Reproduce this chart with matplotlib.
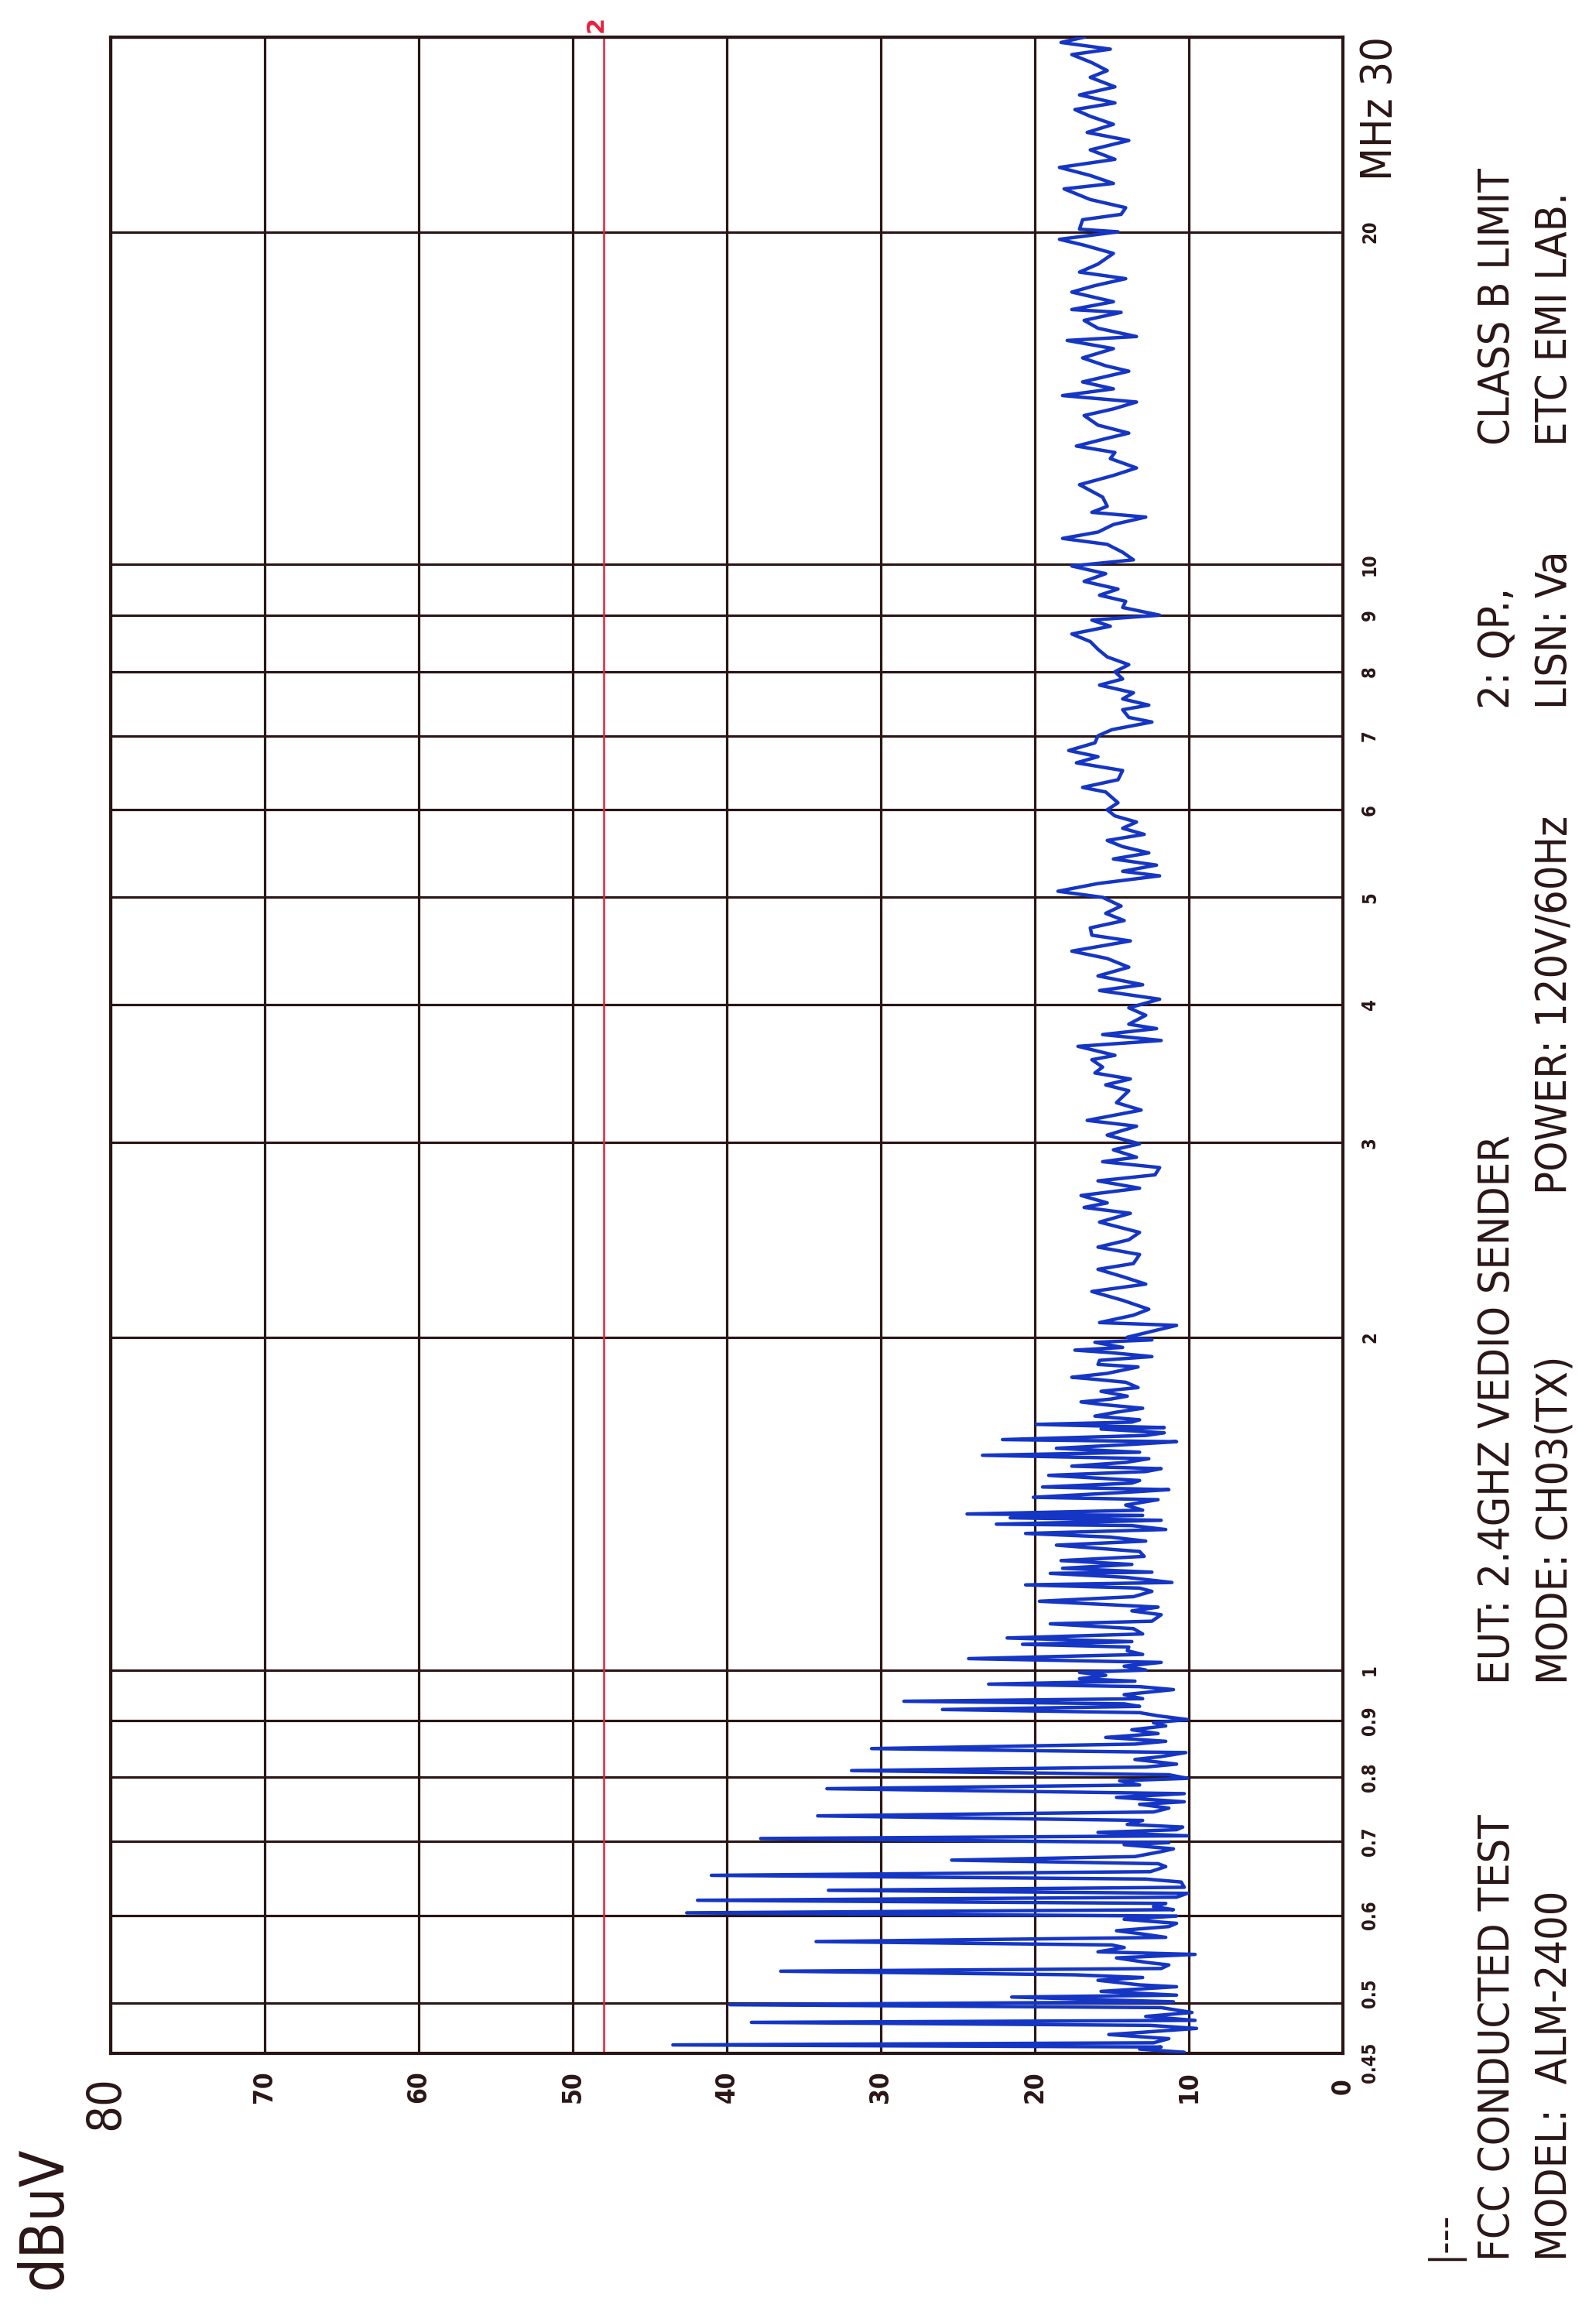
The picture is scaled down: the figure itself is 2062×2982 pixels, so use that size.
import matplotlib
matplotlib.use('Agg')
import matplotlib.pyplot as plt
import matplotlib.transforms as mtransforms
from matplotlib import font_manager
from matplotlib.ticker import NullLocator

# ---------------- data (frequency in MHz, level in dBuV) ----------------
freq_a = [0.450, 0.451, 0.454, 0.456, 0.458, 0.460, 0.464, 0.468, 0.470, 0.474,
          0.477, 0.480, 0.482, 0.486, 0.490, 0.495, 0.498, 0.501, 0.506, 0.508,
          0.512, 0.517, 0.519, 0.524, 0.527, 0.530, 0.534, 0.537, 0.541, 0.544,
          0.549, 0.553, 0.556, 0.561, 0.564, 0.568, 0.573, 0.577, 0.581, 0.586,
          0.590, 0.595, 0.599, 0.603, 0.607, 0.611, 0.615, 0.619, 0.623, 0.628,
          0.632, 0.636, 0.643, 0.647, 0.652, 0.657, 0.664, 0.668, 0.673, 0.678,
          0.685, 0.689, 0.695, 0.698]
level_a = [10.5, 10.3, 13.2, 11.8, 43.5, 12.3, 11.3, 15.2, 13.2, 9.5,
           12.5, 38.4, 9.6, 12.8, 9.8, 11.8, 39.8, 11.0, 21.5, 10.8,
           15.7, 10.8, 13.2, 15.9, 13.0, 17.4, 36.5, 11.8, 11.3, 12.8,
           14.7, 9.6, 15.9, 14.2, 15.0, 34.2, 11.5, 13.0, 14.7, 11.3,
           10.8, 14.2, 10.8, 42.6, 11.0, 12.3, 11.5, 41.9, 10.8, 10.1,
           33.4, 10.3, 10.5, 12.8, 41.0, 12.5, 11.5, 12.0, 25.4, 13.5,
           11.8, 11.0, 14.2, 11.3]

freq_b = [0.704, 0.708, 0.713, 0.717, 0.721, 0.725, 0.731, 0.738, 0.744, 0.750,
          0.756, 0.760, 0.767, 0.773, 0.781, 0.787, 0.794, 0.798, 0.804, 0.811,
          0.817, 0.822, 0.830, 0.835, 0.842, 0.849, 0.857, 0.862, 0.869, 0.876,
          0.883, 0.890, 0.896, 0.902, 0.909, 0.915, 0.921, 0.927, 0.932, 0.937,
          0.942, 0.950, 0.960, 0.966, 0.971, 0.977, 0.982, 0.989, 0.995, 1.000,
          1.008, 1.016, 1.024, 1.033, 1.041]
level_b = [37.8, 10.1, 15.9, 10.8, 10.4, 14.0, 13.0, 34.1, 12.3, 11.3,
           13.2, 10.3, 14.7, 10.3, 33.5, 13.2, 14.5, 10.1, 11.3, 31.9,
           12.8, 10.8, 13.5, 11.8, 10.2, 30.6, 13.5, 11.5, 15.4, 12.0,
           13.7, 11.5, 12.3, 10.1, 12.0, 13.2, 26.0, 13.2, 14.2, 28.5,
           13.0, 14.2, 11.0, 13.2, 23.0, 13.5, 17.1, 15.4, 17.1, 12.8,
           14.2, 11.8, 24.3, 13.0, 14.0]

freq_c = [1.049, 1.055, 1.061, 1.069, 1.078, 1.090, 1.101, 1.107, 1.122, 1.131,
          1.140, 1.154, 1.165, 1.178, 1.186, 1.194, 1.200, 1.213, 1.223, 1.226,
          1.236, 1.246, 1.256, 1.267, 1.280, 1.297, 1.308, 1.319, 1.329, 1.340,
          1.351, 1.355, 1.366, 1.373, 1.380, 1.384, 1.395, 1.410, 1.426, 1.433,
          1.449, 1.456, 1.464, 1.476, 1.484, 1.500, 1.512, 1.521, 1.529, 1.541,
          1.553, 1.564, 1.574, 1.587, 1.600, 1.609, 1.616, 1.630, 1.639, 1.652,
          1.657, 1.668, 1.676, 1.684, 1.697, 1.711, 1.725, 1.739, 1.748, 1.758,
          1.769, 1.787, 1.801, 1.821, 1.835, 1.840, 1.855, 1.880, 1.890, 1.906,
          1.921, 1.937, 1.947, 1.958, 1.979, 1.989, 2.000]
level_c = [13.9, 20.8, 13.7, 21.8, 13.0, 13.6, 19.0, 12.4, 11.8, 13.7,
           12.0, 19.7, 13.6, 12.4, 13.2, 20.6, 11.1, 14.1, 19.0, 12.4,
           18.2, 13.7, 18.3, 12.9, 13.2, 18.6, 12.8, 15.1, 20.6, 11.5,
           13.7, 22.5, 11.8, 21.6, 13.0, 24.4, 13.0, 14.1, 12.0, 20.1,
           13.7, 11.3, 19.5, 13.7, 13.2, 19.1, 12.8, 11.8, 17.6, 14.1,
           12.6, 23.4, 13.2, 18.6, 13.7, 10.8, 22.1, 12.8, 11.6, 15.7,
           11.6, 19.9, 13.7, 13.2, 16.1, 14.7, 13.0, 15.7, 17.0, 15.1,
           14.0, 15.7, 13.3, 14.1, 16.6, 17.6, 15.3, 13.3, 15.9, 15.8,
           12.4, 15.1, 17.4, 14.3, 16.1, 12.4, 14.0]

freq_d = [2.050, 2.062, 2.094, 2.120, 2.160, 2.200, 2.234, 2.269, 2.304, 2.332,
          2.376, 2.413, 2.450, 2.488, 2.542, 2.589, 2.621, 2.646, 2.687, 2.728,
          2.770, 2.805, 2.848, 2.883, 2.910, 2.955, 2.992, 3.047, 3.104, 3.142,
          3.210, 3.260, 3.342, 3.383, 3.425, 3.468, 3.511, 3.565, 3.598, 3.666,
          3.711, 3.757, 3.804, 3.839, 3.911, 3.972, 4.044, 4.118, 4.168, 4.245,
          4.323, 4.402, 4.470, 4.566, 4.621, 4.692, 4.764, 4.836, 4.910]
level_d = [10.8, 15.8, 13.6, 12.6, 14.3, 16.3, 12.8, 14.3, 15.9, 13.6,
           13.2, 15.9, 13.9, 13.2, 15.8, 13.8, 16.8, 15.3, 17.0, 13.2,
           15.9, 12.2, 11.9, 15.6, 13.4, 14.9, 13.2, 15.3, 13.4, 16.6,
           13.1, 14.7, 13.9, 15.4, 13.8, 16.1, 15.6, 16.3, 14.8, 17.2,
           11.8, 15.6, 12.1, 13.9, 12.8, 13.9, 11.9, 15.8, 13.0, 15.9,
           13.9, 15.3, 17.6, 13.8, 16.3, 16.4, 14.2, 15.4, 14.4]

freq_e = [5.000, 5.064, 5.146, 5.229, 5.279, 5.347, 5.416, 5.485, 5.557, 5.629,
          5.701, 5.774, 5.849, 5.924, 6.000, 6.089, 6.227, 6.287, 6.388, 6.512,
          6.617, 6.702, 6.789, 6.898, 7.000, 7.090, 7.204, 7.274, 7.391, 7.462,
          7.559, 7.656, 7.780, 7.880, 8.000, 8.118, 8.250, 8.382, 8.518, 8.654,
          8.794, 8.908, 9.000, 9.145, 9.263, 9.382, 9.503, 9.656, 9.812, 9.970,
          10.10, 10.26, 10.43, 10.56, 10.70, 10.87, 11.04, 11.15, 11.29, 11.51,
          11.81, 12.04, 12.23, 12.47, 12.63, 12.80, 13.00]
level_e = [15.6, 18.5, 15.9, 11.9, 14.3, 12.1, 14.9, 12.6, 14.3, 15.3,
           12.9, 14.3, 13.4, 14.8, 15.3, 14.6, 15.4, 16.9, 14.6, 14.3,
           17.3, 15.9, 17.8, 16.1, 15.9, 15.0, 12.4, 13.9, 14.3, 12.6,
           14.3, 13.6, 15.8, 14.3, 14.8, 13.9, 15.3, 15.9, 16.4, 17.6,
           15.1, 16.3, 11.9, 14.3, 14.1, 15.8, 14.6, 16.8, 15.4, 17.6,
           13.6, 14.3, 15.3, 18.2, 15.9, 14.9, 12.8, 16.3, 15.3, 15.6,
           17.1, 14.9, 13.4, 15.1, 14.8, 17.3, 15.4]

freq_f = [13.15, 13.37, 13.64, 13.83, 14.03, 14.22, 14.42, 14.63, 14.96, 15.13,
          15.38, 15.68, 15.95, 16.08, 16.36, 16.63, 16.91, 17.01, 17.29, 17.64,
          17.88, 18.14, 18.39, 18.70, 19.12, 19.45, 19.69, 20.00, 20.11, 20.51,
          20.74, 21.03, 21.39, 21.87, 22.12, 22.49, 22.87, 23.26, 23.72, 24.19,
          24.60, 25.02, 25.44, 25.80, 26.16, 26.60, 27.05, 27.59, 27.98, 28.45,
          28.93, 29.26, 29.67, 30.00]
level_f = [13.9, 15.9, 16.8, 14.9, 13.4, 18.2, 14.9, 16.9, 13.9, 15.4,
           16.9, 14.9, 17.9, 13.4, 15.9, 16.8, 14.4, 17.6, 14.9, 17.6,
           16.1, 14.1, 17.1, 15.9, 14.9, 16.8, 18.4, 14.6, 17.1, 16.9,
           14.4, 14.1, 16.4, 18.1, 14.9, 16.4, 18.4, 14.8, 16.4, 13.9,
           16.6, 14.9, 16.4, 17.4, 14.8, 17.1, 14.8, 16.4, 15.3, 16.3,
           17.6, 15.1, 18.3, 16.8]

limit_level = 48          # CLASS B QP limit, dBuV

db_ticks = [0, 10, 20, 30, 40, 50, 60, 70, 80]
db_labels = ['0', '10', '20', '30', '40', '50', '60', '70', '80']
freq_ticks = [0.45, 0.5, 0.6, 0.7, 0.8, 0.9, 1, 2, 3, 4, 5, 6, 7, 8, 9, 10, 20, 30]
freq_labels = ['0.45', '0.5', '0.6', '0.7', '0.8', '0.9', '1', '2', '3', '4', '5',
               '6', '7', '8', '9', '10', '20', 'MHz 30']

line1_texts = ['FCC CONDUCTED TEST', 'EUT: 2.4GHZ VEDIO SENDER', '2: QP.,', 'CLASS B LIMIT']
line2_texts = ['MODEL:  ALM-2400', 'MODE: CH03(TX)', 'POWER: 120V/60Hz', 'LISN: Va', 'ETC EMI LAB.']

# ---------------- style ----------------
W, H, DPI = 2062, 2982, 100
INK = '#2a1616'
TRACE = '#1536c4'
LIMIT = '#e8203c'

names = {f.name for f in font_manager.fontManager.ttflist}
if 'Liberation Sans Narrow' in names:
    FONT = ['Liberation Sans Narrow', 'DejaVu Sans']
    BIG = 45
else:
    FONT = ['DejaVu Sans']
    BIG = 40
STRETCH = 'condensed'

fig = plt.figure(figsize=(W / DPI, H / DPI), dpi=DPI)
fig.patch.set_facecolor('white')

L, R, T, B = 143, 1735, 48, 2653
ax = fig.add_axes([L / W, 1 - B / H, (R - L) / W, (B - T) / H])

freq = freq_a + freq_b + freq_c + freq_d + freq_e + freq_f
level = level_a + level_b + level_c + level_d + level_e + level_f

ax.set_yscale('log')
ax.set_xlim(80, 0)
ax.set_ylim(0.45, 30)
ax.set_xticks(db_ticks)
ax.set_yticks(freq_ticks)
ax.yaxis.set_minor_locator(NullLocator())
ax.tick_params(length=0, labelbottom=False, labelleft=False)
ax.grid(True, color=INK, lw=2.3, zorder=1)
for sp in ax.spines.values():
    sp.set_color(INK)
    sp.set_linewidth(3.0)

ax.axvline(limit_level, color=LIMIT, lw=1.8, zorder=2)
ax.plot(level, freq, color=TRACE, lw=3.2, zorder=3, solid_joinstyle='round')

# ---------------- tick labels (rotated) ----------------
tx = mtransforms.blended_transform_factory(ax.transData, ax.transAxes)
ty = mtransforms.blended_transform_factory(ax.transAxes, ax.transData)

for v, lab in zip(db_ticks, db_labels):
    if lab == '80':
        ax.text(v, -(2717 - B) / (B - T), lab,
                transform=mtransforms.offset_copy(tx, fig=fig, x=-6, y=0, units='dots'),
                rotation=90, ha='center', va='center', fontsize=44, family=FONT,
                fontstretch=STRETCH, color=INK)
    else:
        ax.text(v, -(2696 - B) / (B - T), lab, transform=tx, rotation=90,
                ha='center', va='center', fontsize=24, fontweight='bold',
                family=FONT, fontstretch=STRETCH, color=INK)

for f, lab in zip(freq_ticks, freq_labels):
    if lab.startswith('MHz'):
        ax.text((1783 - L) / (R - L), f, lab,
                transform=mtransforms.offset_copy(ty, fig=fig, x=0, y=-92, units='dots'),
                rotation=90, ha='center', va='center', fontsize=BIG,
                family=FONT, fontstretch=STRETCH, color=INK)
        continue
    dy = 0
    if lab == '0.45':
        dy = -12
    elif lab == '0.5':
        dy = 12
    ax.text((1770 - L) / (R - L), f, lab,
            transform=mtransforms.offset_copy(ty, fig=fig, x=0, y=dy, units='dots'),
            rotation=90, ha='center', va='center', fontsize=17, fontweight='bold',
            family=FONT, fontstretch=STRETCH, color=INK)

# limit marker label
ax.text(limit_level, 1.0, '2',
        transform=mtransforms.offset_copy(tx, fig=fig, x=-10, y=17, units='dots'),
        rotation=90, ha='center', va='center', fontsize=22, fontweight='bold',
        family=FONT, color=LIMIT)

# ---------------- annotations ----------------
def ftext(xc, ystart, s, size, **kw):
    fig.text(xc / W, 1 - ystart / H, s, rotation=90, ha='center', va='bottom',
             fontsize=size, family=FONT, fontstretch=STRETCH, color=INK, **kw)

ftext(57, 2958, 'dBuV', 56)

line1_start = [2921, 2176, 916, 575]
line2_start = [2921, 2176, 1543, 916, 576]
for s, y0 in zip(line1_texts, line1_start):
    ftext(1935, y0, s, BIG)
for s, y0 in zip(line2_texts, line2_start):
    ftext(2009, y0, s, BIG)

ftext(1865, 2921, '|---', 36)

fig.savefig('out.png', dpi=DPI, facecolor='white')
